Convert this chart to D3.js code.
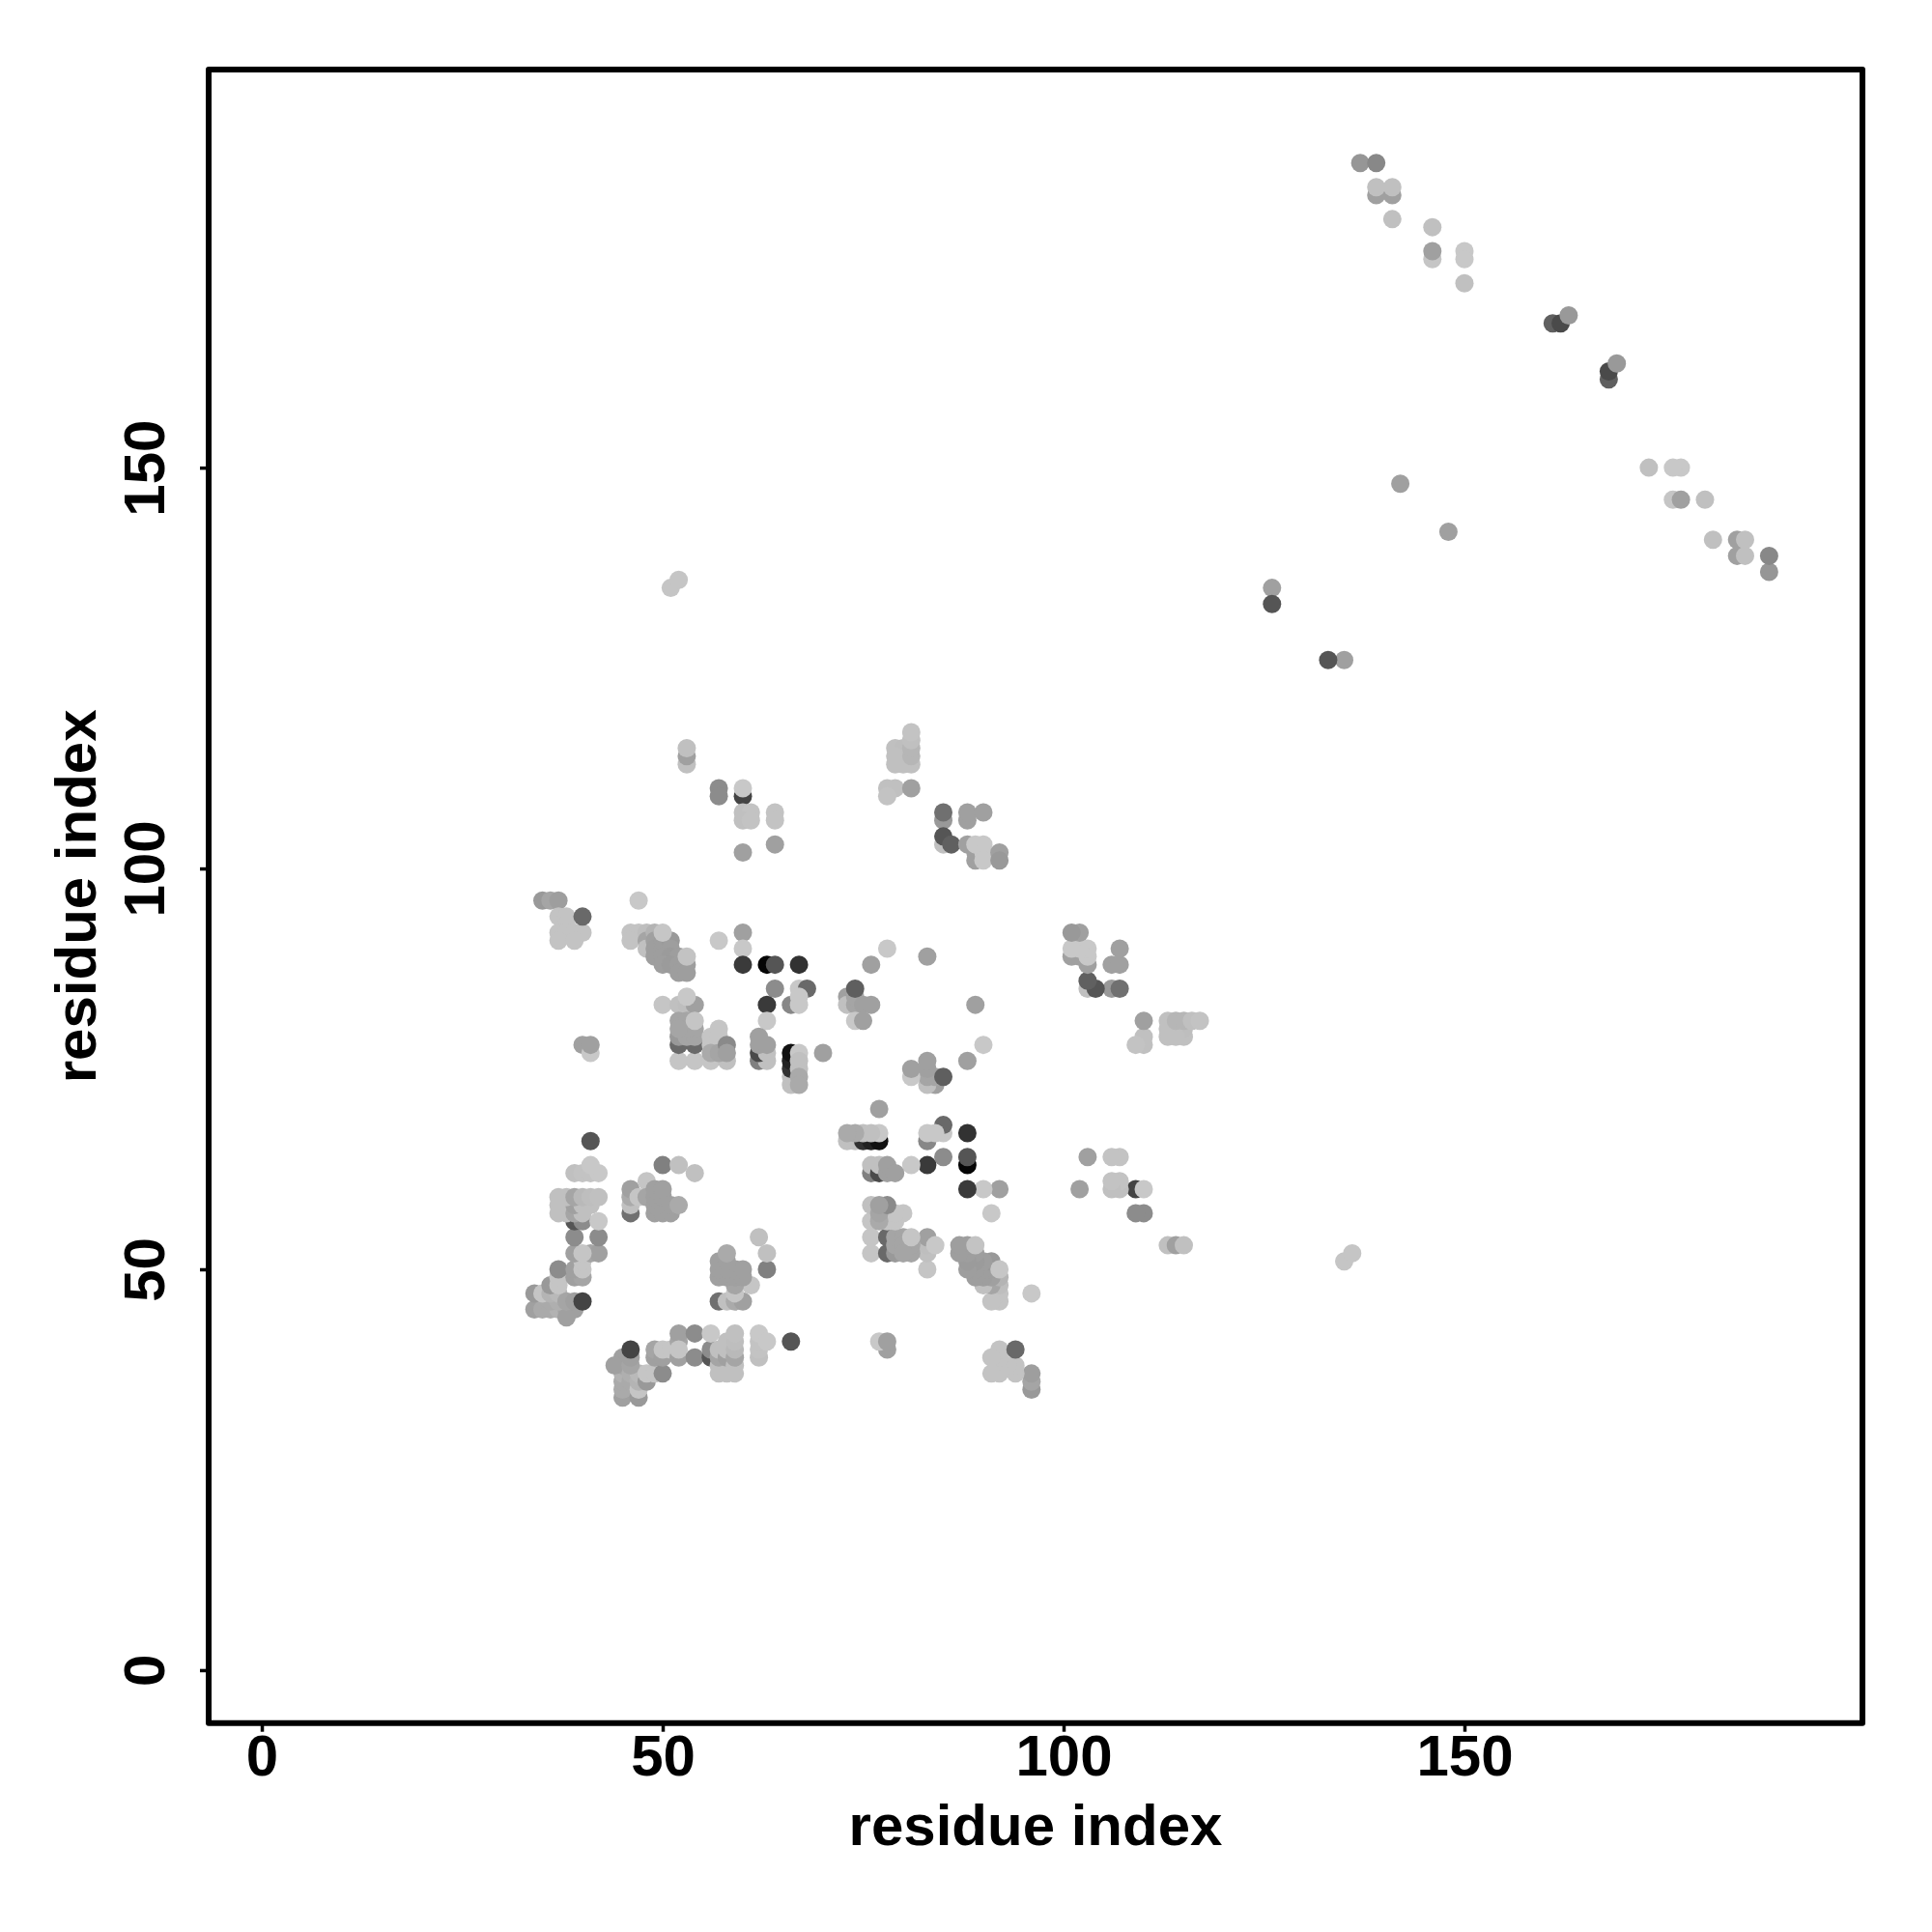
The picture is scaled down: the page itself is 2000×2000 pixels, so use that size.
<!DOCTYPE html>
<html>
<head>
<meta charset="utf-8">
<script src="https://cdn.jsdelivr.net/npm/d3@7/dist/d3.min.js"></script>
<style>
html,body{margin:0;padding:0;background:#fff}
svg{display:block}
text{font-family:"Liberation Sans",Arial,sans-serif;font-weight:700;fill:#000}
</style>
</head>
<body>
<script>
// Contacts are [residue i, residue j, grey level]; the map is symmetric, so each is drawn at (i,j) and (j,i).
const xTickValues = [0, 50, 100, 150];
const yTickValues = [0, 50, 100, 150];
const xLabel = "residue index";
const yLabel = "residue index";

const farContacts = [[137,188,150],[139,188,136],[139,184,160],[141,184,160],[139,185,192],[141,185,192],[141,181,192],[146,180,192],[146,176,197],[146,177,160],[150,177,200],[150,176,200],[150,173,192],[161,168,96],[162,168,74],[163,169,153],[142,148,160],[126,135,160],[126,133,85],[51,135,197],[52,136,197]];
const loopTop = [[53,113,192],[53,114,160],[53,115,192],[57,110,140],[57,109,140],[60,109,68],[60,110,200],[60,107,192],[61,107,195],[60,106,192],[61,106,195],[64,107,195],[64,106,195],[64,103,160],[60,102,160],[79,115,192],[80,115,190],[80,114,190],[79,114,192],[79,113,192],[80,113,192],[81,113,192],[81,114,182],[81,115,182],[81,116,192],[81,117,195],[78,110,192],[79,110,192],[78,109,195],[81,110,160],[85,106,153],[85,107,112],[88,106,160],[88,107,160],[90,107,160],[85,103,192],[85,104,85],[86,103,96],[88,103,160],[89,102,160],[89,101,160],[89,103,200],[90,103,200],[90,102,200],[90,101,200],[92,102,160],[92,101,153]];
const sheetA = [[35,96,153],[36,96,165],[37,96,158],[47,96,200],[37,94,195],[38,94,195],[38,93,195],[37,92,195],[38,92,195],[39,92,195],[40,92,195],[37,91,195],[39,91,195],[40,94,105]];
const sheetB = [[46,92,195],[47,92,195],[46,91,195],[48,92,190],[48,91,165],[48,90,192],[49,92,180],[49,91,160],[49,90,158],[50,91,158],[50,90,158],[51,91,153],[51,90,158],[49,89,158],[50,89,158],[51,89,155],[52,89,158],[50,88,158],[51,88,155],[52,88,158],[53,88,158],[52,87,158],[53,87,158],[50,92,198],[53,89,195]];
const darkRow = [[57,91,200],[60,92,160],[60,90,200],[60,88,58],[63,88,5],[64,88,85],[67,88,50],[64,85,140],[67,85,200],[68,85,105],[63,83,58],[66,83,135],[67,84,200],[67,83,200],[63,81,200]];
const helixPair = [[78,90,200],[76,88,160],[83,89,160],[73,84,160],[73,83,192],[74,83,165],[74,84,165],[75,83,160],[76,83,160],[74,85,95],[74,81,200],[75,81,160],[70,77,160]];
const midCluster = [[50,83,197],[52,83,192],[53,83,190],[54,83,160],[53,84,200],[52,76,197],[54,76,197],[56,76,197],[58,76,192],[52,78,105],[54,78,105],[52,81,165],[53,81,165],[52,79,153],[53,79,165],[54,79,165],[54,80,165],[53,80,165],[52,80,165],[54,81,197],[56,79,197],[56,78,197],[57,80,197],[57,78,197],[57,79,197],[56,77,170],[57,77,165],[58,78,138],[58,77,160],[40,78,160],[41,77,200],[41,78,160]];
const tightCluster = [[62,76,128],[63,76,192],[62,77,74],[63,77,192],[62,78,160],[63,78,160],[62,79,160],[66,73,192],[66,74,192],[66,75,50],[66,76,34],[66,77,17],[67,77,200],[67,76,192],[67,75,192],[67,74,170],[67,73,170]];
const leftCluster = [[34,45,160],[35,45,170],[36,45,170],[37,45,178],[38,45,165],[39,45,160],[38,44,160],[34,47,153],[36,46,170],[37,46,175],[35,47,197],[36,47,180],[37,47,185],[38,46,165],[39,46,160],[40,46,68],[36,48,153],[37,48,197],[37,49,197],[39,49,160],[40,49,165],[37,50,140],[39,50,160],[40,50,197],[40,51,197],[39,52,160],[41,52,165],[42,52,160],[40,52,197],[39,54,140],[42,54,140],[39,56,85],[40,56,140],[42,56,200],[37,57,192],[38,57,192],[39,57,165],[40,57,192],[37,58,192],[39,58,160],[40,58,192],[41,58,192],[37,59,192],[38,59,192],[39,59,165],[40,59,185],[41,59,190],[42,59,192],[39,62,192],[40,62,195],[41,62,195],[42,62,200],[41,63,200],[41,66,85]];
const centreCluster = [[46,57,112],[46,58,192],[46,59,170],[46,60,160],[47,59,197],[48,61,197],[48,59,165],[49,57,160],[49,58,160],[49,59,160],[49,60,160],[50,57,160],[50,58,160],[50,59,160],[50,60,160],[51,57,160],[51,58,160],[52,58,170],[50,63,128],[52,63,192],[54,62,192]];

const contactLists = [farContacts, loopTop, sheetA, sheetB, darkRow, helixPair, midCluster, tightCluster, leftCluster, centreCluster];
const contacts = contactLists.flat();
const points = contacts.flatMap(([i, j, grey]) => [{x: i, y: j, grey}, {x: j, y: i, grey}]);

const W = 2000, H = 2000;
const plot = {left: 216, right: 1928, top: 72, bottom: 1783.7};
const x = d3.scaleLinear().domain([-6.63, 199.64]).range([plot.left, plot.right]);
const y = d3.scaleLinear().domain([-6.6, 199.66]).range([plot.bottom, plot.top]);

const svg = d3.select("body").append("svg").attr("width", W).attr("height", H).attr("viewBox", `0 0 ${W} ${H}`);
svg.append("rect").attr("width", W).attr("height", H).attr("fill", "#fff");

svg.append("g").selectAll("circle").data(points).join("circle")
  .attr("cx", d => x(d.x)).attr("cy", d => y(d.y)).attr("r", 9.5)
  .attr("fill", d => d3.rgb(d.grey, d.grey, d.grey));

const xAxis = svg.append("g").attr("transform", `translate(0,${plot.bottom})`)
  .call(d3.axisBottom(x).tickValues(xTickValues).tickSize(9).tickPadding(0));
xAxis.select(".domain").remove();
xAxis.selectAll("line").attr("stroke", "#000").attr("stroke-width", 3.5);
xAxis.selectAll("text").attr("font-size", 60).attr("dy", null).attr("y", 54).attr("text-anchor", "middle");

const yAxis = svg.append("g").attr("transform", `translate(${plot.left},0)`)
  .call(d3.axisLeft(y).tickValues(yTickValues).tickSize(9).tickPadding(0));
yAxis.select(".domain").remove();
yAxis.selectAll("line").attr("stroke", "#000").attr("stroke-width", 3.5);
yAxis.selectAll("text").attr("font-size", 60).attr("x", null).attr("dy", null)
  .attr("text-anchor", "middle").attr("transform", "translate(-46,0) rotate(-90)");

svg.append("rect")
  .attr("x", plot.left).attr("y", plot.top)
  .attr("width", plot.right - plot.left).attr("height", plot.bottom - plot.top)
  .attr("fill", "none").attr("stroke", "#000").attr("stroke-width", 6).attr("stroke-linejoin", "round");

svg.append("text").attr("x", (plot.left + plot.right) / 2).attr("y", 1909.5)
  .attr("text-anchor", "middle").attr("font-size", 60).text(xLabel);
svg.append("text").attr("transform", `translate(99,${(plot.top + plot.bottom) / 2}) rotate(-90)`)
  .attr("text-anchor", "middle").attr("font-size", 60).text(yLabel);
</script>
</body>
</html>
